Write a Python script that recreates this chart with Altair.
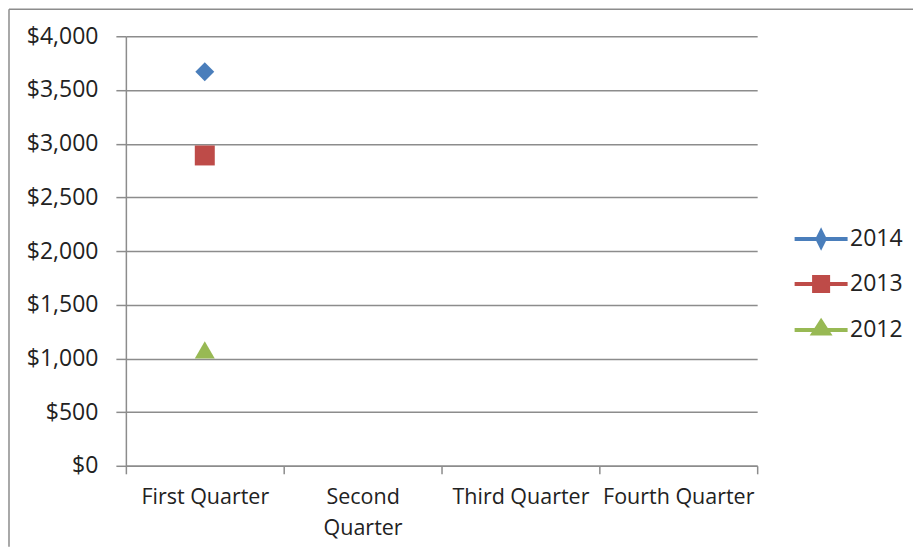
import altair as alt
import pandas as pd

quarters = ["First Quarter", "Second Quarter", "Third Quarter", "Fourth Quarter"]
years = ["2014", "2013", "2012"]
first_quarter_values = [3670, 2890, 1080]
colors = ["#4a7ebb", "#be4b48", "#98b954"]
plot_shapes = ["diamond", "square", "triangle-up"]
plot_sizes = [361, 400, 400]
y_ticks = [0, 500, 1000, 1500, 2000, 2500, 3000, 3500, 4000]

# legend glyphs: line + marker (Excel style)
legend_paths = [
    "M-2.04,0H2.04M0,-0.56L0.28,0L0,0.56L-0.28,0Z",
    "M-2.04,0H2.04M-0.54,-0.54H0.54V0.54H-0.54Z",
    "M-2.04,0H2.04M0,-0.66L0.6,0.28H-0.6Z",
]

rows = []
for yr, v in zip(years, first_quarter_values):
    rows.append({"Quarter": quarters[0], "Year": yr, "Value": v})
df = pd.DataFrame(rows)

FONT = "Open Sans"
GRID = "#8c8c8c"
TXT = "#222222"

x_enc = alt.X(
    "Quarter:N",
    sort=quarters,
    scale=alt.Scale(type="band", domain=quarters, paddingInner=0, paddingOuter=0),
    axis=alt.Axis(
        title=None,
        labelAngle=0,
        tickBand="extent",
        tickSize=8,
        tickColor=GRID,
        tickWidth=1.5,
        domainColor=GRID,
        domainWidth=1.5,
        labelFont=FONT,
        labelFontSize=21.5,
        labelColor=TXT,
        labelPadding=13,
        labelLineHeight=31,
        labelOverlap=False,
        labelExpr="datum.value == 'Second Quarter' ? ['Second', 'Quarter'] : datum.value",
        grid=False,
    ),
)
y_enc = alt.Y(
    "Value:Q",
    scale=alt.Scale(domain=[0, 4000], nice=False),
    axis=alt.Axis(
        title=None,
        values=y_ticks,
        format="$,.0f",
        grid=True,
        gridColor=GRID,
        gridWidth=1.5,
        tickSize=10,
        tickColor=GRID,
        tickWidth=1.5,
        domainColor=GRID,
        domainWidth=1.5,
        labelFont=FONT,
        labelFontSize=23,
        labelColor=TXT,
        labelPadding=18,
    ),
)

layers = []

# outer frame (decoration): left and top edges only, the rest falls outside the window
frame_df = pd.DataFrame({"f": [0]})
frame_left = alt.Chart(frame_df).mark_rule(color="#8c8c8c", strokeWidth=1.5).encode(
    x=alt.value(-117), y=alt.value(-27), y2=alt.value(511)
)
frame_top = alt.Chart(frame_df).mark_rule(color="#8c8c8c", strokeWidth=1.5).encode(
    x=alt.value(-117), x2=alt.value(788), y=alt.value(-27)
)
layers += [frame_left, frame_top]

for yr, c, shp, sz in zip(years, colors, plot_shapes, plot_sizes):
    layers.append(
        alt.Chart(df)
        .transform_filter(alt.datum.Year == yr)
        .mark_point(shape=shp, filled=True, size=sz, color=c, opacity=1)
        .encode(x=x_enc, y=y_enc)
    )

legend = alt.Legend(
    title=None,
    orient="none",
    legendX=681,
    legendY=188,
    padding=0,
    symbolSize=676,
    symbolStrokeWidth=4,
    symbolOpacity=1,
    rowPadding=13,
    labelOffset=14,
    labelFont=FONT,
    labelFontSize=23,
    labelColor=TXT,
)
leg_layer = alt.Chart(df).mark_point(filled=True, opacity=0).encode(
    x=x_enc,
    y=y_enc,
    fill=alt.Fill("Year:N", scale=alt.Scale(domain=years, range=colors), legend=legend),
    stroke=alt.Stroke("Year:N", scale=alt.Scale(domain=years, range=colors), legend=legend),
    shape=alt.Shape("Year:N", scale=alt.Scale(domain=years, range=legend_paths), legend=legend),
)
layers.append(leg_layer)

chart = (
    alt.layer(*layers)
    .properties(width=632, height=430, padding=0)
    .configure_view(stroke=None)
)

chart.save("out.html", embed_options={"renderer": "svg", "actions": False})
